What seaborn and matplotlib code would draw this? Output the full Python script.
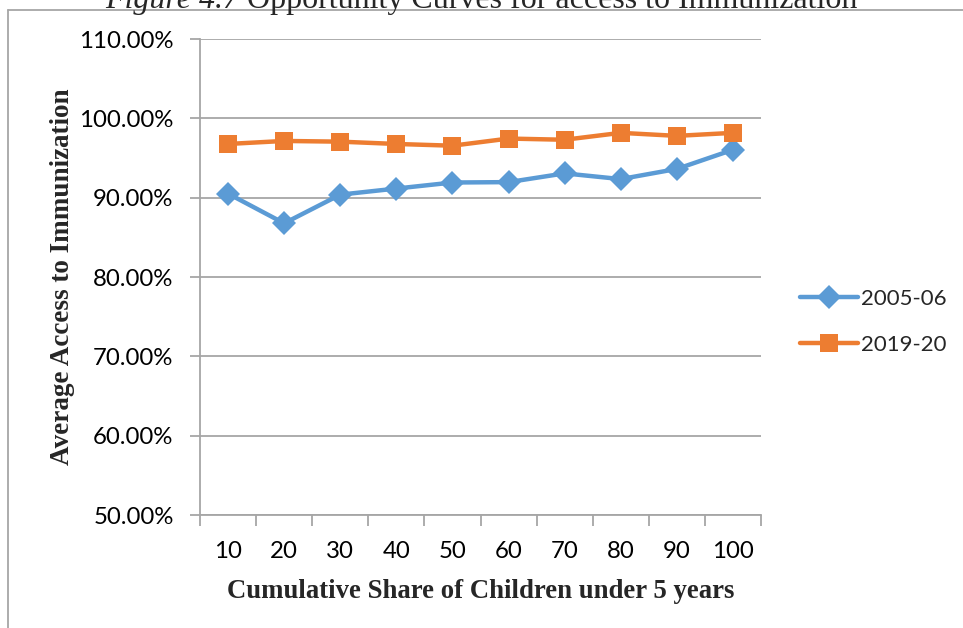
import matplotlib
matplotlib.use("Agg")
import matplotlib.pyplot as plt
import seaborn as sns
import pandas as pd
from matplotlib.ticker import FuncFormatter, FixedLocator
from matplotlib.lines import Line2D

categories = ["10", "20", "30", "40", "50", "60", "70", "80", "90", "100"]
series_names = ["2005-06", "2019-20"]
values_2005 = [0.9051, 0.8677, 0.9038, 0.9115, 0.9191, 0.9196, 0.9306, 0.9234, 0.9362, 0.9604]
values_2019 = [0.9677, 0.9715, 0.9706, 0.9677, 0.9655, 0.9745, 0.9730, 0.9817, 0.9779, 0.9817]
y_ticks = [0.5, 0.6, 0.7, 0.8, 0.9, 1.0, 1.1]
title_part1 = "Figure 4.7"
title_part2 = " Opportunity Curves for access to Immunization"
x_label = "Cumulative Share of Children under 5 years"
y_label = "Average Access to Immunization"

df = pd.DataFrame({
    "share": categories * 2,
    "value": values_2005 + values_2019,
    "series": [series_names[0]] * len(categories) + [series_names[1]] * len(categories),
})

sns.set_style("white")
plt.rcParams["font.family"] = ["Lato", "DejaVu Sans"]

W, H = 963, 628
fig = plt.figure(figsize=(W / 100, H / 100), dpi=100)
ax = fig.add_axes([200 / W, 1 - 515 / H, (761 - 200) / W, (515 - 39) / H])

grid_c = "#a6a6a6"
blue = "#5B9BD5"
orange = "#ED7D31"

sns.lineplot(
    data=df, x="share", y="value", hue="series", style="series",
    hue_order=series_names, style_order=series_names,
    palette={series_names[0]: blue, series_names[1]: orange},
    markers={series_names[0]: "D", series_names[1]: "s"},
    dashes=False, linewidth=3.2, markersize=13, markeredgewidth=0,
    sort=False, ax=ax, legend=False, zorder=3,
)
lines = ax.get_lines()
if len(lines) >= 2:
    lines[0].set_markersize(12.5)
    lines[1].set_markersize(13)

ax.set_xlim(-0.5, len(categories) - 0.5)
ax.set_ylim(0.5, 1.1)
ax.yaxis.set_major_locator(FixedLocator(y_ticks))
ax.yaxis.set_major_formatter(FuncFormatter(lambda v, p: f"{v*100:.2f}%"))
ax.set_xticks(range(len(categories)))
ax.set_xticklabels(categories)
ax.set_xticks([i - 0.5 for i in range(len(categories) + 1)], minor=True)

ax.grid(axis="y", color=grid_c, linewidth=1.3)
ax.set_axisbelow(True)
for s in ["top", "right"]:
    ax.spines[s].set_visible(False)
for s in ["left", "bottom"]:
    ax.spines[s].set_color(grid_c)
    ax.spines[s].set_linewidth(1.3)

ax.tick_params(axis="y", which="major", length=7, width=1.3, color=grid_c, pad=12,
               labelsize=17.3, labelcolor="black", left=True)
ax.tick_params(axis="x", which="major", length=0, pad=19, labelsize=17.3, labelcolor="black")
ax.tick_params(axis="x", which="minor", length=8, width=1.3, color=grid_c, bottom=True)

ax.set_xlabel(x_label, family="Liberation Serif", fontweight="bold", fontsize=19.3, labelpad=12)
ax.set_ylabel(y_label, family="Liberation Serif", fontweight="bold", fontsize=19.5, labelpad=3)

handles = [
    Line2D([], [], color=blue, marker="D", markersize=12.5, linewidth=3.2, markeredgewidth=0),
    Line2D([], [], color=orange, marker="s", markersize=13, linewidth=3.2, markeredgewidth=0),
]
fig.legend(handles, series_names, loc="center left", bbox_to_anchor=(780 / W, 1 - 322 / H),
           frameon=False, fontsize=16, handlelength=2.6, handletextpad=0.15, labelspacing=1.15)

# outer frame
fig.add_artist(Line2D([8 / W, 1.0], [1 - 10 / H, 1 - 10 / H], transform=fig.transFigure, color=grid_c, linewidth=1.3))
fig.add_artist(Line2D([8 / W, 8 / W], [0, 1 - 10 / H], transform=fig.transFigure, color=grid_c, linewidth=1.3))

# title (cut at top, as in the reference)
t1 = fig.text(105 / W, 1 - 8 / H, title_part1, family="Liberation Serif", style="italic",
              fontsize=23, va="baseline", ha="left")
fig.canvas.draw()
bb = t1.get_window_extent()
fig.text(bb.x1 / W, 1 - 8 / H, title_part2, family="Liberation Serif", fontsize=23,
         va="baseline", ha="left")

fig.savefig("out.png", dpi=100)
